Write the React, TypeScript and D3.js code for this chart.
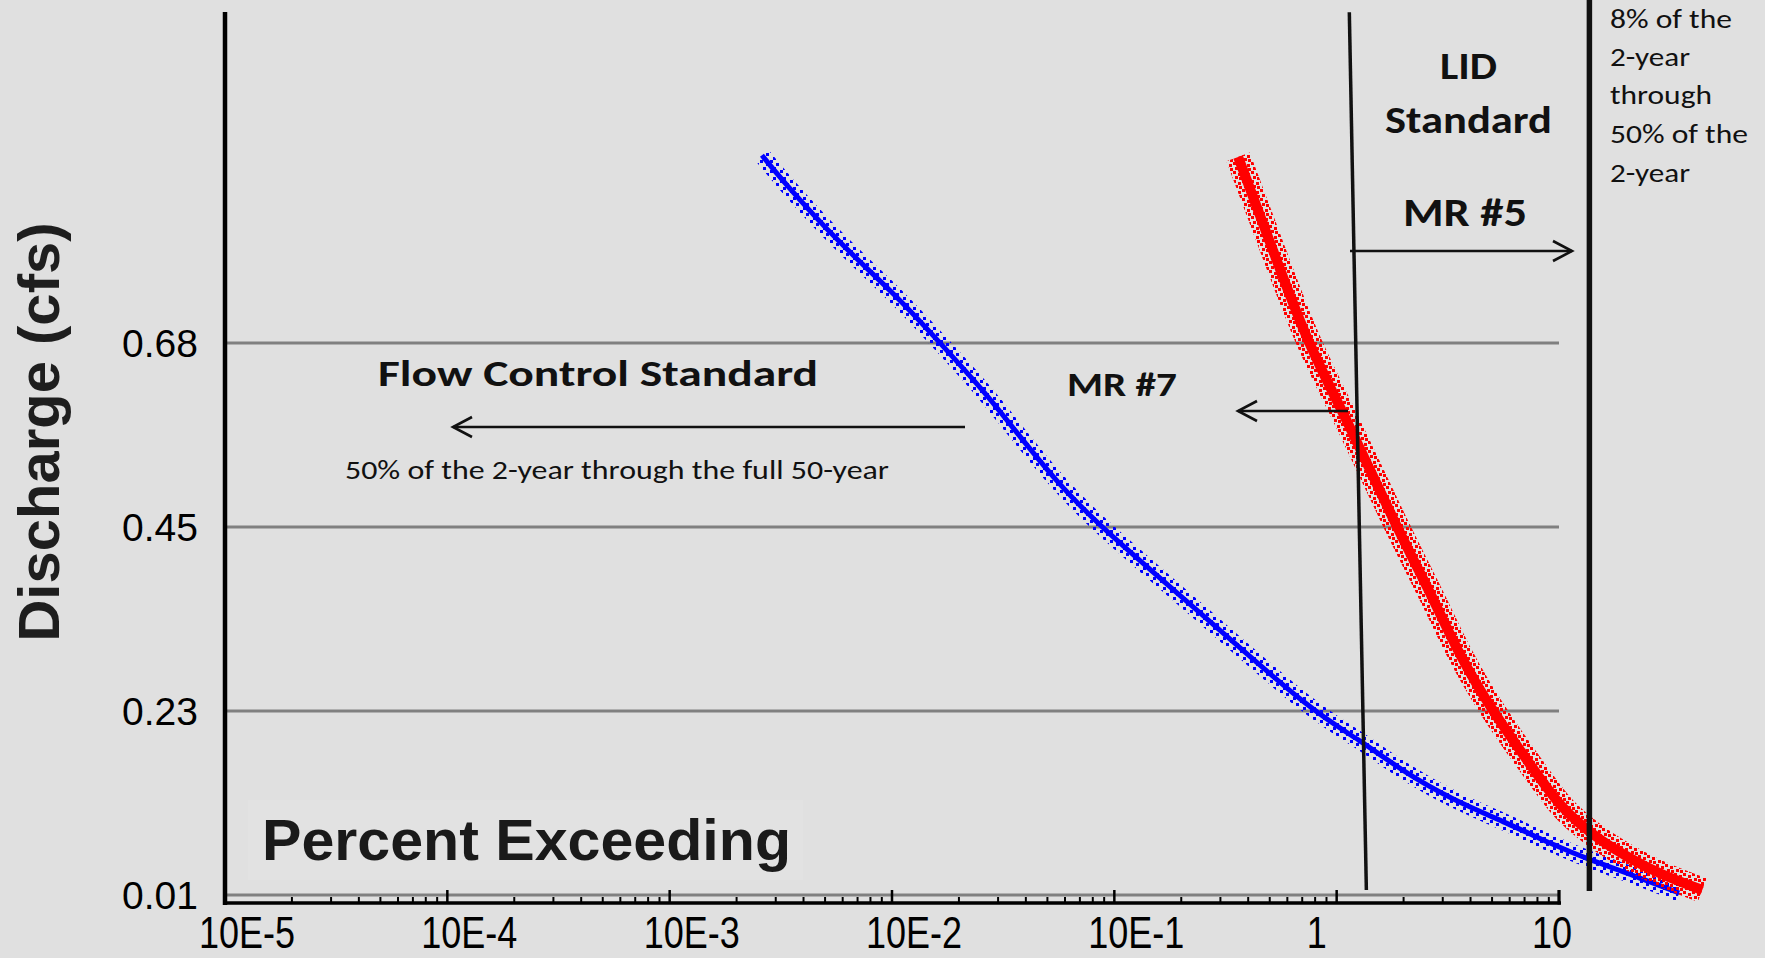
import React from 'react'
import { scaleLog, scaleLinear, line, curveBasis } from 'd3'

// axis ticks
const xTickValues = [1e-5, 1e-4, 1e-3, 1e-2, 1e-1, 1, 10]
const xTickLabels = ['10E-5', '10E-4', '10E-3', '10E-2', '10E-1', '1', '10']
const yTickValues = [0.0125, 0.235, 0.4575, 0.68]
const yTickLabels = ['0.01', '0.23', '0.45', '0.68']

// blue curve (percent exceeding, discharge cfs)
const blueExceed = [0.0026, 0.0032, 0.00572, 0.01043, 0.01646, 0.0257, 0.0351, 0.0553, 0.0863, 0.2432, 0.784, 1.276, 1.931, 3.342, 5.85, 9.42, 13.8, 20.3, 34.7]
const blueCfs = [0.907, 0.877, 0.802, 0.738, 0.68, 0.623, 0.577, 0.511, 0.458, 0.354, 0.233, 0.2, 0.164, 0.127, 0.0996, 0.073, 0.0548, 0.039, 0.0149]

// red curve
const redExceed = [0.3604, 0.4919, 0.7367, 1.115, 1.852, 2.746, 3.521, 5.058, 7.576, 10.13, 12.85, 15.3, 20.3, 27.7, 44.1]
const redCfs = [0.905, 0.808, 0.68, 0.587, 0.458, 0.369, 0.305, 0.233, 0.167, 0.119, 0.095, 0.079, 0.0585, 0.039, 0.0185]

// standard boundaries (percent exceeding at top / bottom of the drawn line)
const lidBoundary = { topPct: 1.14, bottomPct: 1.36, topCfs: 1.08, bottomCfs: 0.0185 }
const upperBoundary = { pct: 13.7, topCfs: 1.095, bottomCfs: 0.0173 }

const W = 1765
const H = 958
const BG = '#e0e0e0'
const AXIS_Y = 903
const CAL = 'Carlito, Lato, "Open Sans", sans-serif'
const ARIAL = '"Liberation Sans", Arial, sans-serif'

const Arrow: React.FC<{ x1: number; x2: number; y: number; head: 'left' | 'right' }> = ({ x1, x2, y, head }) => {
  const tip = head === 'left' ? x1 : x2
  const back = head === 'left' ? tip + 19 : tip - 19
  return (
    <g stroke="#111" strokeWidth={2.6} fill="none">
      <line x1={x1} x2={x2} y1={y} y2={y} />
      <polyline points={`${back},${y - 10} ${tip},${y} ${back},${y + 10}`} />
    </g>
  )
}

export default function App() {
  const x = scaleLog().domain([1e-5, 10]).range([225, 1559])
  const y = scaleLinear().domain([0.0125, 0.68]).range([895, 343])

  const mk = (xs: number[], ys: number[]) =>
    line<number>()
      .x((_, i) => x(xs[i]))
      .y((_, i) => y(ys[i]))
      .curve(curveBasis)(xs) || ''

  const bluePath = mk(blueExceed, blueCfs)
  const redPath = mk(redExceed, redCfs)

  const minor = x.ticks().filter((t) => !xTickValues.some((v) => Math.abs(v - t) / v < 1e-6))

  const rightText = [
    { t: '8% of the', y: 28, w: 122 },
    { t: '2-year', y: 66, w: 80 },
    { t: 'through', y: 104, w: 102 },
    { t: '50% of the', y: 143, w: 138 },
    { t: '2-year', y: 182, w: 80 }
  ]

  return (
    <div>
      <style>{`body{margin:0;background:${BG}}`}</style>
      <svg width={W} height={H} style={{ display: 'block' }}>
        <defs>
          {/* scattered pixel dots that mimic the overlapping x markers */}
          <pattern id="blueDots" width={10} height={10} patternUnits="userSpaceOnUse">
            <rect x={0} y={0} width={3} height={3} fill="#0000ff" />
            <rect x={6} y={3} width={3} height={3} fill="#0000ff" />
            <rect x={3} y={7} width={3} height={3} fill="#0000ff" />
          </pattern>
          <pattern id="redDots" width={9} height={9} patternUnits="userSpaceOnUse">
            <rect x={0} y={0} width={3} height={3} fill="#ff0000" />
            <rect x={5} y={2} width={3} height={3} fill="#ff0000" />
            <rect x={2} y={5} width={3} height={3} fill="#ff0000" />
            <rect x={6} y={6} width={3} height={3} fill="#ff0000" />
          </pattern>
        </defs>
        <rect width={W} height={H} fill={BG} />

        {/* faint box behind the axis caption */}
        <rect x={248} y={800} width={555} height={80} fill="#e2e2e2" />

        {/* gridlines */}
        <g className="grid">
          {yTickValues.map((v) => (
            <line key={v} x1={225} x2={1559} y1={y(v)} y2={y(v)} stroke="#808080" strokeWidth={3} />
          ))}
        </g>

        {/* x axis */}
        <g className="x-axis">
          <line x1={223} x2={1561} y1={AXIS_Y} y2={AXIS_Y} stroke="#000" strokeWidth={3.5} />
          {minor.map((t) => (
            <line key={t} x1={x(t)} x2={x(t)} y1={AXIS_Y - 6} y2={AXIS_Y} stroke="#000" strokeWidth={2} />
          ))}
          {xTickValues.map((t) => (
            <line key={t} x1={x(t)} x2={x(t)} y1={AXIS_Y - 13} y2={AXIS_Y} stroke="#000" strokeWidth={2.5} />
          ))}
          <line x1={1559} x2={1559} y1={AXIS_Y - 13} y2={AXIS_Y + 1.5} stroke="#000" strokeWidth={3} />
          {xTickValues.map((t, i) => {
            const label = xTickLabels[i]
            const dx = label.includes('E') ? 22 : label.length === 1 ? -20 : -7
            const cx = x(t) + dx
            return (
              <text
                key={label}
                transform={`translate(${cx},948) scale(0.8,1)`}
                textAnchor="middle"
                fontFamily={ARIAL}
                fontSize={45}
                fill="#000"
              >
                {label}
              </text>
            )
          })}
        </g>

        {/* y axis */}
        <g className="y-axis">
          <line x1={225} x2={225} y1={12} y2={905} stroke="#000" strokeWidth={4.5} />
          {yTickValues.map((v, i) => (
            <text key={v} x={198} y={y(v)} dy="0.36em" textAnchor="end" fontFamily={ARIAL} fontSize={39} fill="#000">
              {yTickLabels[i]}
            </text>
          ))}
          <text
            transform="translate(59,432) rotate(-90)"
            textAnchor="middle"
            fontFamily={ARIAL}
            fontWeight="bold"
            fontSize={58}
            fill="#1e1e1e"
          >
            Discharge (cfs)
          </text>
        </g>

        <text x={262} y={860} fontFamily={ARIAL} fontWeight="bold" fontSize={58} fill="#1a1a1a" textLength={529} lengthAdjust="spacingAndGlyphs">
          Percent Exceeding
        </text>

        {/* curves */}
        <g className="series">
          <path d={bluePath} fill="none" stroke="url(#blueDots)" strokeWidth={17} />
          <path d={bluePath} fill="none" stroke="#0000ff" strokeWidth={5} />
          <path d={redPath} fill="none" stroke="url(#redDots)" strokeWidth={25} />
          <path d={redPath} fill="none" stroke="#ff0000" strokeWidth={10} />
        </g>

        {/* standard boundaries */}
        <line
          x1={x(lidBoundary.topPct)}
          y1={y(lidBoundary.topCfs)}
          x2={x(lidBoundary.bottomPct)}
          y2={y(lidBoundary.bottomCfs)}
          stroke="#111"
          strokeWidth={3.5}
        />
        <line
          x1={x(upperBoundary.pct)}
          y1={y(upperBoundary.topCfs)}
          x2={x(upperBoundary.pct)}
          y2={y(upperBoundary.bottomCfs)}
          stroke="#111"
          strokeWidth={5.5}
        />

        {/* annotations */}
        <g className="annotations" fill="#111" fontFamily={CAL}>
          <text x={378} y={386} fontWeight="bold" fontSize={37} textLength={440} lengthAdjust="spacingAndGlyphs">
            Flow Control Standard
          </text>
          <Arrow x1={453} x2={965} y={427} head="left" />
          <text x={345} y={479} fontSize={27} textLength={544} lengthAdjust="spacingAndGlyphs">
            50% of the 2-year through the full 50-year
          </text>

          <text x={1067} y={396} fontWeight="bold" fontSize={35} textLength={110} lengthAdjust="spacingAndGlyphs">
            MR #7
          </text>
          <Arrow x1={1238} x2={1348} y={411} head="left" />

          <text x={1440} y={79} fontWeight="bold" fontSize={39} textLength={57} lengthAdjust="spacingAndGlyphs">
            LID
          </text>
          <text x={1385} y={133} fontWeight="bold" fontSize={39} textLength={167} lengthAdjust="spacingAndGlyphs">
            Standard
          </text>
          <text x={1403} y={226} fontWeight="bold" fontSize={40} textLength={124} lengthAdjust="spacingAndGlyphs">
            MR #5
          </text>
          <Arrow x1={1350} x2={1572} y={251} head="right" />

          {rightText.map((r, i) => (
            <text key={i} x={1610} y={r.y} fontSize={27} textLength={r.w} lengthAdjust="spacingAndGlyphs">
              {r.t}
            </text>
          ))}
        </g>
      </svg>
    </div>
  )
}
